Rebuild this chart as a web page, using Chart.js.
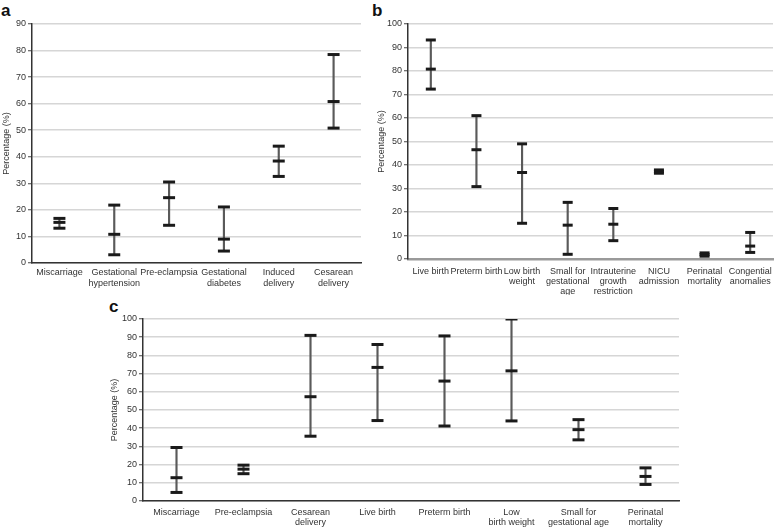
<!DOCTYPE html>
<html>
<head>
<meta charset="utf-8">
<script src="https://cdn.jsdelivr.net/npm/chart.js@4.4.1/dist/chart.umd.min.js"></script>
<style>
  html, body { margin: 0; padding: 0; background: #fff; }
  body { width: 781px; height: 528px; position: relative; overflow: hidden; font-family: "Liberation Sans", Arial, sans-serif; }
  .panel { position: absolute; }
  .tag { position: absolute; font-weight: bold; font-size: 17px; line-height: 17px; color: #111; }
</style>
</head>
<body>
<div class="tag" style="left:1px;top:2px">a</div>
<div class="tag" style="left:372px;top:2px">b</div>
<div class="tag" style="left:109px;top:298px">c</div>

<div class="panel" style="left:0;top:0"><canvas id="chartA" width="370" height="290"></canvas></div>
<div class="panel" style="left:370px;top:0"><canvas id="chartB" width="411" height="295"></canvas></div>
<div class="panel" style="left:0;top:295px"><canvas id="chartC" width="781" height="233"></canvas></div>

<script>
// ---- panel a: maternal outcomes ----
const aLabels = ["Miscarriage", ["Gestational", "hypertension"], "Pre-eclampsia", ["Gestational", "diabetes"], ["Induced", "delivery"], ["Cesarean", "delivery"]];
const aLow  = [13.1, 3.1, 14.2, 4.5, 32.6, 50.8];
const aMid  = [15.3, 10.8, 24.6, 9.0, 38.4, 60.8];
const aHigh = [16.8, 21.8, 30.5, 21.1, 44.0, 78.5];
const aMax = 90;

// ---- panel b: neonatal outcomes ----
const bLabels = ["Live birth", "Preterm birth", ["Low birth", "weight"], ["Small for", "gestational", "age"], ["Intrauterine", "growth", "restriction"], ["NICU", "admission"], ["Perinatal", "mortality"], ["Congential", "anomalies"]];
const bLow  = [72.3, 30.8, 15.2, 2.0, 7.8, 36.5, 1.2, 2.8];
const bMid  = [80.8, 46.5, 36.8, 14.4, 14.8, 37.2, 1.9, 5.5];
const bHigh = [93.2, 61.0, 49.0, 24.1, 21.5, 37.9, 2.6, 11.3];
const bMax = 100;

// ---- panel c ----
const cLabels = ["Miscarriage", "Pre-eclampsia", ["Cesarean", "delivery"], "Live birth", "Preterm birth", ["Low", "birth weight"], ["Small for", "gestational age"], ["Perinatal", "mortality"]];
const cLow  = [4.7, 15.0, 35.6, 44.2, 41.2, 44.0, 33.6, 9.1];
const cMid  = [12.8, 17.5, 57.3, 73.4, 65.9, 71.5, 39.2, 13.5];
const cHigh = [29.4, 19.7, 91.0, 86.0, 90.7, 100, 44.7, 18.2];
const cMax = 100;

Chart.defaults.font.family = '"Liberation Sans", Arial, sans-serif';
Chart.defaults.font.size = 9;
Chart.defaults.color = "#333";

function capSet(data, r) {
  return {
    type: "line",
    data,
    showLine: false,
    pointStyle: "line",
    pointRadius: r,
    pointHoverRadius: r,
    pointBorderWidth: 3,
    pointBorderColor: "#1a1a1a",
    pointBackgroundColor: "#1a1a1a",
    order: 1
  };
}

function errorChart(id, labels, lo, mid, hi, max, cfg) {
  const ctx = document.getElementById(id).getContext("2d");
  return new Chart(ctx, {
    type: "bar",
    data: {
      labels,
      datasets: [
        capSet(hi, cfg.capR),
        capSet(mid, cfg.capR),
        capSet(lo, cfg.capR),
        {
          type: "bar",
          data: lo.map((v, i) => [v, hi[i]]),
          backgroundColor: "#5a5a5a",
          borderWidth: 0,
          barThickness: 1.5,
          order: 2
        }
      ]
    },
    options: {
      responsive: false,
      animation: false,
      events: [],
      layout: { padding: cfg.padding },
      plugins: { legend: { display: false }, tooltip: { enabled: false } },
      scales: {
        x: {
          offset: true,
          grid: { display: false, drawTicks: false },
          border: { color: cfg.xBorder, width: cfg.xBorderWidth },
          ticks: { autoSkip: false, maxRotation: 0, minRotation: 0, padding: cfg.xPad, font: { size: 9, lineHeight: cfg.lh } },
          afterFit: s => { s.height = cfg.xHeight; }
        },
        y: {
          min: 0,
          max,
          ticks: { stepSize: 10, padding: 2, font: { size: 9 } },
          grid: { color: "#d6d6d6", lineWidth: 1.5, tickColor: "#444", tickLength: 4, tickWidth: 1 },
          border: { color: "#333", width: 1.5 },
          title: { display: true, text: "Percentage (%)", padding: { top: 1, bottom: 0 }, font: { size: 9 } },
          afterFit: s => { s.width = cfg.yWidth; }
        }
      }
    }
  });
}

errorChart("chartA", aLabels, aLow, aMid, aHigh, aMax, {
  capR: 6, lh: 1.2, xPad: 4, xBorder: "#333", xBorderWidth: 1.5, xHeight: 27, yWidth: 32,
  padding: { left: 0, right: 9, top: 24, bottom: 0 }
});
errorChart("chartB", bLabels, bLow, bMid, bHigh, bMax, {
  capR: 5, lh: 1.1, xPad: 8, xBorder: "#9a9a9a", xBorderWidth: 2.5, xHeight: 36, yWidth: 33,
  padding: { left: 5, right: 1, top: 24, bottom: 0 }
});
errorChart("chartC", cLabels, cLow, cMid, cHigh, cMax, {
  capR: 6, lh: 1.15, xPad: 6, xBorder: "#333", xBorderWidth: 1.5, xHeight: 27, yWidth: 35,
  padding: { left: 108, right: 102, top: 24, bottom: 0 }
});
</script>
</body>
</html>
